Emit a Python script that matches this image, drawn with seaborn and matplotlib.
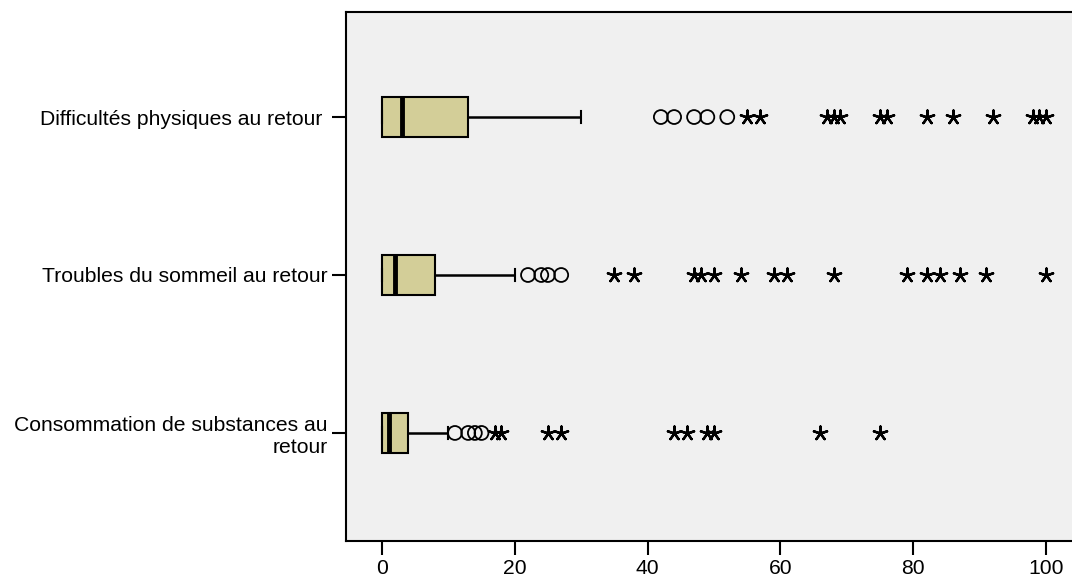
import pandas as pd
import seaborn as sns
import matplotlib.pyplot as plt

variables = [
    "Difficultés physiques au retour ",
    "Troubles du sommeil au retour",
    "Consommation de substances au\nretour",
]

# min, Q1, median, Q3, upper whisker end
physique_box = [0, 0, 3, 13, 30]
sommeil_box = [0, 0, 2, 8, 20]
substances_box = [0, 0, 1, 4, 10]

# outliers (circles)
physique_outliers = [42, 44, 47, 49, 52]
sommeil_outliers = [22, 24, 25, 27]
substances_outliers = [11, 13, 14, 15]

# extremes (stars)
physique_extremes = [55, 57, 67, 68, 69, 75, 76, 82, 86, 92, 98, 99, 100]
sommeil_extremes = [35, 38, 47, 48, 50, 54, 59, 61, 68, 79, 82, 84, 87, 91, 100]
substances_extremes = [17, 18, 25, 27, 44, 46, 49, 50, 66, 75]

rows = []
for name, box, out, ext in zip(
    variables,
    [physique_box, sommeil_box, substances_box],
    [physique_outliers, sommeil_outliers, substances_outliers],
    [physique_extremes, sommeil_extremes, substances_extremes],
):
    rows += [(name, v, "box") for v in box]
    rows += [(name, v, "outlier") for v in out]
    rows += [(name, v, "extreme") for v in ext]
df = pd.DataFrame(rows, columns=["variable", "value", "kind"])

plt.rcParams["font.family"] = ["Liberation Sans", "DejaVu Sans"]

fig = plt.figure(figsize=(10.72, 5.76), dpi=100)
ax = fig.add_axes([346 / 1072, 35 / 576, 1 - 346 / 1072, 529 / 576])
ax.set_facecolor("#F0F0F0")

sns.boxplot(
    data=df[df["kind"] == "box"], x="value", y="variable", order=variables,
    whis=(0, 100), width=0.25, color="#D3CE98", saturation=1,
    linecolor="black", linewidth=1.5, showfliers=False,
    medianprops=dict(linewidth=3.5), whiskerprops=dict(linewidth=1.8),
    capwidths=0.08, ax=ax,
)

n_before = len(ax.collections)
sns.stripplot(
    data=df[df["kind"] == "outlier"], x="value", y="variable", order=variables,
    jitter=False, marker="o", size=10, color="black", edgecolor="black",
    linewidth=1.3, ax=ax,
)
for coll in ax.collections[n_before:]:
    coll.set_facecolor("none")
    coll.set_edgecolor("black")

sns.stripplot(
    data=df[df["kind"] == "extreme"], x="value", y="variable", order=variables,
    jitter=False, marker=(5, 2, 0), size=10, color="black",
    linewidth=1.7, ax=ax,
)

ax.set_xlim(-5.4, 103.9)
ax.set_ylim(2.684, -0.665)
ax.set_xticks([0, 20, 40, 60, 80, 100])
ax.set_xlabel("")
ax.set_ylabel("")
ax.spines["right"].set_visible(False)
for side in ["left", "top", "bottom"]:
    ax.spines[side].set_linewidth(1.5)
ax.tick_params(axis="both", length=10, width=1.5, labelsize=15.2, pad=3)
for lab in ax.get_yticklabels():
    lab.set_linespacing(1.2)

fig.savefig("out.png", dpi=100)
